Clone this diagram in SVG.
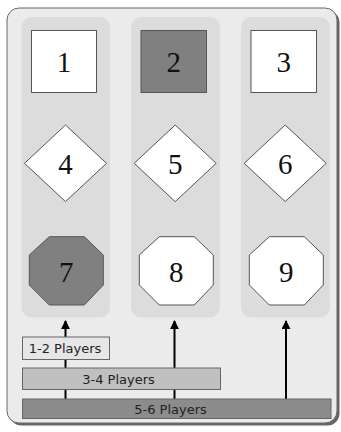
<svg xmlns="http://www.w3.org/2000/svg" width="341" height="432" viewBox="0 0 341 432">
<defs>
<style>
.col{fill:#dcdcdc;stroke:none}
.node{stroke:#555;stroke-width:1}
.white{fill:#ffffff}
.dark{fill:#808080}
.num{font-family:"Liberation Serif","Times New Roman",serif;font-size:29px;text-anchor:middle;fill:#111}
.lbl{font-family:"DejaVu Sans",Verdana,sans-serif;font-size:13px;text-anchor:middle;fill:#222}
.lblbox{stroke:#666;stroke-width:1}
.conn{stroke:#000;stroke-width:2;fill:none}
</style>
<marker id="ah" viewBox="0 0 10 10" refX="9" refY="5" markerWidth="4.5" markerHeight="4.5" orient="auto" markerUnits="strokeWidth">
<path d="M0,0 L10,5 L0,10 z" fill="#000"/>
</marker>
</defs>
<rect x="0" y="0" width="341" height="432" fill="#ffffff"/>
<g id="frame">
<rect x="9.5" y="10.5" width="330" height="415" rx="12" fill="#666"/>
<rect x="7" y="8" width="330" height="415" rx="12" fill="#ebebeb" stroke="#666" stroke-width="1"/>
<rect class="col" x="21.5" y="17" width="88.5" height="300.5" rx="10"/>
<rect class="col" x="131" y="17" width="89" height="300.5" rx="10"/>
<rect class="col" x="241" y="17" width="89" height="300.5" rx="10"/>
</g>
<g id="connectors">
<line class="conn" x1="65.5" y1="399" x2="65.5" y2="321" marker-end="url(#ah)"/>
<line class="conn" x1="174.5" y1="399" x2="174.5" y2="321" marker-end="url(#ah)"/>
<line class="conn" x1="286" y1="399" x2="286" y2="321" marker-end="url(#ah)"/>
</g>
<g id="n1"><rect class="node white" x="31.5" y="30.5" width="65" height="62"/><text class="num" x="64" y="72">1</text></g>
<g id="n2"><rect class="node dark" x="141" y="30.5" width="65.5" height="62"/><text class="num" x="173.8" y="72">2</text></g>
<g id="n3"><rect class="node white" x="251" y="30.5" width="65.5" height="62"/><text class="num" x="283.8" y="72">3</text></g>
<g id="n4"><polygon class="node white" points="65.5,125 106.5,163.3 65.5,201.6 24.5,163.3"/><text class="num" x="65.5" y="174">4</text></g>
<g id="n5"><polygon class="node white" points="175.2,125 216.2,163.3 175.2,201.6 134.2,163.3"/><text class="num" x="175.2" y="174">5</text></g>
<g id="n6"><polygon class="node white" points="285.2,125 326.2,163.3 285.2,201.6 244.2,163.3"/><text class="num" x="285.2" y="174">6</text></g>
<g id="n7"><polygon class="node dark" points="49.3,236.7 84.3,236.7 103.3,255 103.3,285 84.3,305 49.3,305 29.3,285 29.3,255"/><text class="num" x="66.3" y="282">7</text></g>
<g id="n8"><polygon class="node white" points="159.3,236.7 194.3,236.7 213.3,255 213.3,285 194.3,305 159.3,305 139.3,285 139.3,255"/><text class="num" x="176.3" y="282">8</text></g>
<g id="n9"><polygon class="node white" points="269.3,236.7 304.3,236.7 323.3,255 323.3,285 304.3,305 269.3,305 249.3,285 249.3,255"/><text class="num" x="286.3" y="282">9</text></g>
<g id="l12"><rect class="lblbox" x="22.5" y="337" width="87" height="22.5" fill="#e6e6e6"/><text class="lbl" x="65" y="352.5">1-2 Players</text></g>
<g id="l34"><rect class="lblbox" x="22.5" y="368" width="198" height="21.5" fill="#c0c0c0"/><text class="lbl" x="118.5" y="384">3-4 Players</text></g>
<g id="l56"><rect class="lblbox" x="22.5" y="399" width="308.5" height="19.5" fill="#8c8c8c"/><text class="lbl" x="170.5" y="414">5-6 Players</text></g>
</svg>
